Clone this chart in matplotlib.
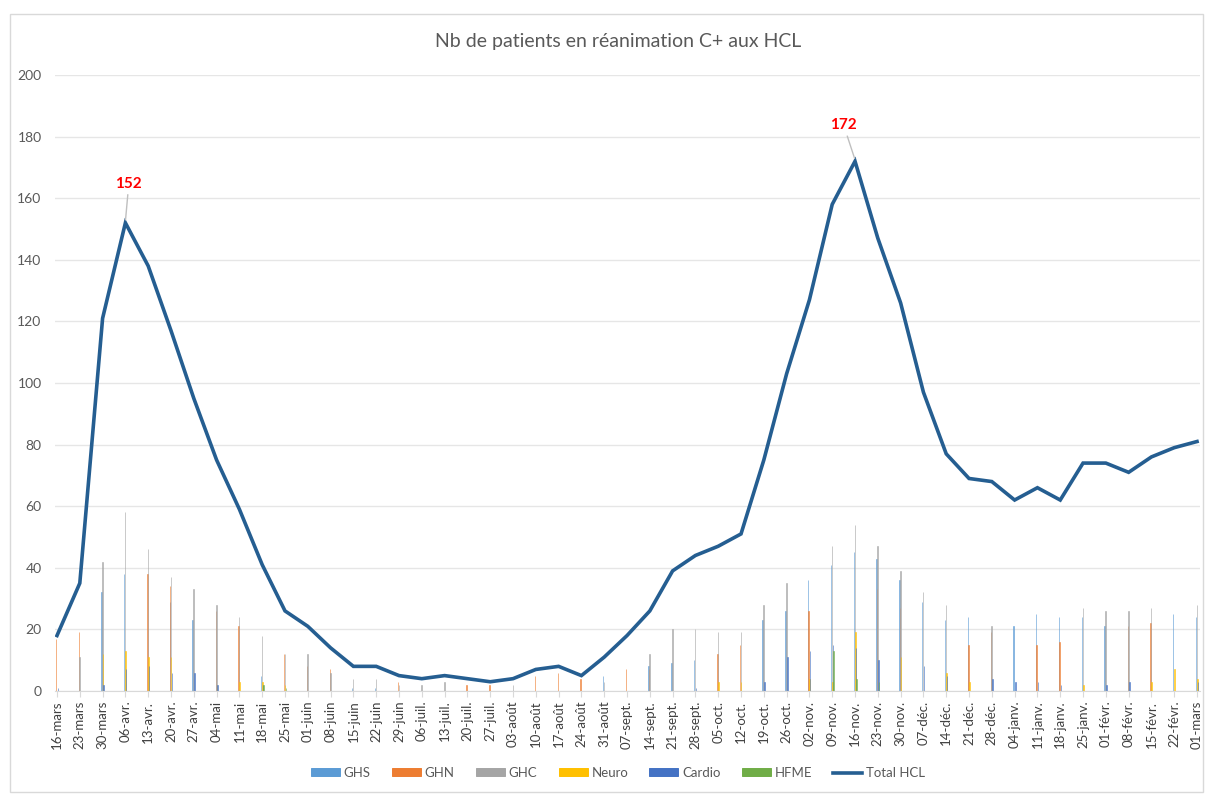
import matplotlib
matplotlib.use("Agg")
import matplotlib.pyplot as plt
import numpy as np
from matplotlib.patches import Rectangle

plt.rcParams['font.family'] = ['Lato', 'DejaVu Sans']

categories = ["16-mars", "23-mars", "30-mars", "06-avr.", "13-avr.", "20-avr.", "27-avr.", "04-mai",
              "11-mai", "18-mai", "25-mai", "01-juin", "08-juin", "15-juin", "22-juin", "29-juin",
              "06-juil.", "13-juil.", "20-juil.", "27-juil.", "03-août", "10-août", "17-août", "24-août",
              "31-août", "07-sept.", "14-sept.", "21-sept.", "28-sept.", "05-oct.", "12-oct.", "19-oct.",
              "26-oct.", "02-nov.", "09-nov.", "16-nov.", "23-nov.", "30-nov.", "07-déc.", "14-déc.",
              "21-déc.", "28-déc.", "04-janv.", "11-janv.", "18-janv.", "25-janv.", "01-févr.", "08-févr.",
              "15-févr.", "22-févr.", "01-mars"]

ghs = [0, 0, 32, 38, 0, 29, 23, 0, 0, 5, 0, 0, 0, 1, 1, 0, 0, 0, 0, 0, 0, 0, 0, 0, 5, 0, 8, 9, 10, 0,
       0, 23, 26, 36, 41, 45, 43, 36, 29, 23, 24, 0, 21, 25, 24, 24, 21, 0, 0, 25, 24]
ghn = [17, 19, 0, 0, 38, 34, 0, 26, 21, 0, 12, 8, 7, 0, 0, 3, 0, 0, 2, 2, 0, 5, 6, 4, 0, 7, 7, 0, 0, 12,
       15, 0, 0, 26, 0, 0, 33, 27, 0, 0, 15, 19, 0, 15, 16, 0, 0, 21, 22, 0, 0]
ghc = [0, 11, 42, 58, 46, 37, 33, 28, 24, 18, 12, 12, 6, 4, 4, 2, 2, 3, 0, 0, 2, 0, 0, 0, 3, 0, 12, 20, 20, 19,
       19, 28, 35, 0, 47, 54, 47, 39, 32, 28, 0, 21, 0, 0, 0, 27, 26, 26, 27, 0, 28]
neuro = [0, 0, 12, 13, 11, 11, 0, 2, 3, 3, 2, 0, 0, 0, 0, 0, 0, 0, 0, 0, 0, 0, 0, 0, 0, 0, 0, 0, 0, 3,
         3, 0, 0, 4, 3, 19, 0, 11, 0, 6, 3, 0, 0, 0, 0, 2, 0, 0, 3, 7, 4]
cardio = [1, 0, 2, 7, 8, 6, 6, 2, 0, 2, 0, 0, 0, 0, 0, 0, 0, 0, 0, 0, 0, 0, 0, 0, 0, 0, 0, 0, 1, 0,
          0, 3, 11, 13, 15, 14, 10, 0, 8, 5, 0, 4, 3, 3, 2, 0, 2, 3, 0, 0, 3]
hfme = [0, 0, 0, 0, 0, 0, 0, 0, 0, 2, 1, 0, 0, 0, 0, 0, 0, 0, 0, 0, 0, 0, 0, 0, 0, 0, 0, 0, 0, 0,
        0, 0, 0, 0, 13, 4, 3, 0, 0, 0, 0, 0, 0, 0, 0, 0, 0, 0, 0, 0, 0]
total = [18, 35, 121, 152, 138, 117, 95, 75, 59, 41, 26, 21, 14, 8, 8, 5, 4, 5, 4, 3, 4, 7, 8, 5, 11,
         18, 26, 39, 44, 47, 51, 75, 103, 127, 158, 172, 147, 126, 97, 77, 69, 68, 62, 66, 62, 74, 74,
         71, 76, 79, 81]

series = [("GHS", ghs, "#5B9BD5"), ("GHN", ghn, "#ED7D31"), ("GHC", ghc, "#A5A5A5"),
          ("Neuro", neuro, "#FFC000"), ("Cardio", cardio, "#4472C4"), ("HFME", hfme, "#70AD47")]

W, H = 1205, 794
fig = plt.figure(figsize=(W / 100, H / 100), dpi=100)
ax = fig.add_axes([55.4 / W, 1 - 691 / H, (1200 - 55.4) / W, (691 - 75) / H])

x = np.arange(len(categories))
bw = 0.02
for k, (name, vals, col) in enumerate(series):
    v = np.array(vals, dtype=float)
    v[v == 0] = np.nan
    ax.bar(x + (k - 2.5) * 0.022, v, width=bw, color=col, edgecolor=col, linewidth=0.7,
           label=name, alpha=0.6, zorder=2)

ax.plot(x, total, color="#255E91", lw=2.6, label="Total HCL", zorder=3, solid_joinstyle="miter")

ax.set_ylim(0, 200)
ax.set_xlim(-0.07, 50.13)
ax.set_yticks(range(0, 201, 20))
ax.yaxis.grid(True, color="#E6E6E6", lw=1)
ax.set_axisbelow(True)
for s in ["top", "right", "left"]:
    ax.spines[s].set_visible(False)
ax.spines["bottom"].set_color("#D9D9D9")
ax.tick_params(axis="y", length=0, labelsize=10, labelcolor="#595959", pad=10)
ax.set_xticks(x)
ax.set_xticklabels(categories, rotation=90, fontsize=9.5, color="#404040")
ax.tick_params(axis="x", length=4, color="#D9D9D9", pad=3)

ax.annotate("152", xy=(3, 152.5), xytext=(3.15, 162.5), color="red", fontweight="bold", fontsize=11,
            ha="center", va="bottom",
            arrowprops=dict(arrowstyle="-", color="#BFBFBF", lw=1, shrinkA=1, shrinkB=1))
ax.annotate("172", xy=(35, 172.5), xytext=(34.5, 181.5), color="red", fontweight="bold", fontsize=11,
            ha="center", va="bottom",
            arrowprops=dict(arrowstyle="-", color="#BFBFBF", lw=1, shrinkA=1, shrinkB=1))

fig.text(618 / W, 1 - 42 / H, "Nb de patients en réanimation C+ aux HCL", ha="center", va="center",
         fontsize=14, color="#595959")

handles, labels = ax.get_legend_handles_labels()
order = [1, 2, 3, 4, 5, 6, 0]
leg = fig.legend([handles[i] for i in order], [labels[i] for i in order], loc="center",
                 bbox_to_anchor=(618 / W, 1 - 773 / H), ncol=7, frameon=False, fontsize=9.5,
                 handlelength=2.2, handleheight=0.55, columnspacing=1.6, handletextpad=0.3)
for t in leg.get_texts():
    t.set_color("#595959")
for h in leg.legend_handles:
    try:
        h.set_alpha(1)
    except Exception:
        pass

fig.patches.append(Rectangle((10 / W, 1 - 792 / H), (1203 - 10) / W, (792 - 14) / H,
                             transform=fig.transFigure, fill=False, edgecolor="#D9D9D9", lw=1))

fig.savefig("out.png", dpi=100)
